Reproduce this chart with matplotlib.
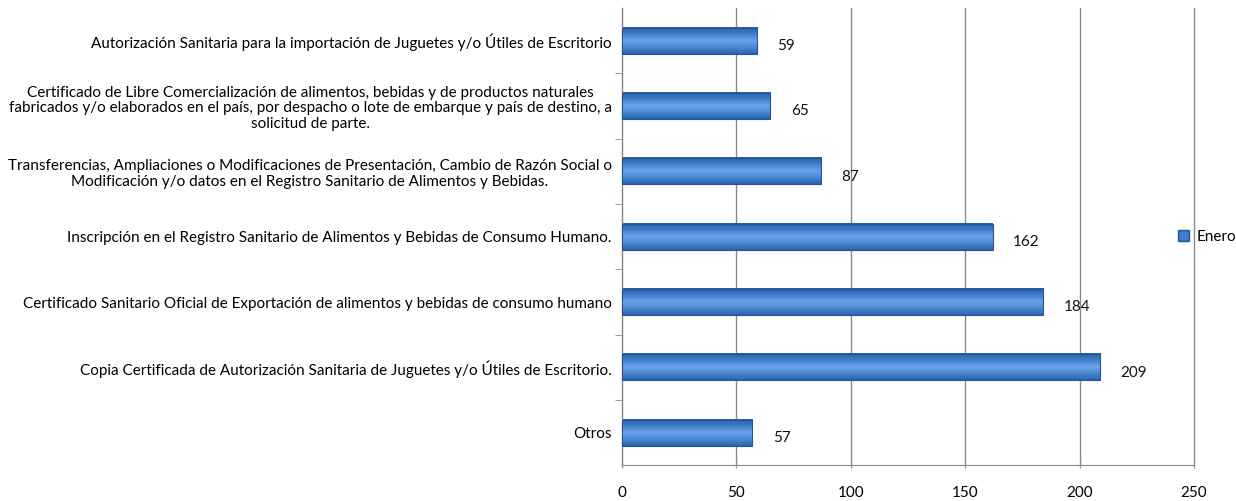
import numpy as np
import matplotlib.pyplot as plt
from matplotlib.colors import LinearSegmentedColormap
from matplotlib.patches import Patch

# datos (de arriba hacia abajo)
categorias = [
    'Autorización Sanitaria para la importación de Juguetes y/o Útiles de Escritorio',
    'Certificado de Libre Comercialización de alimentos, bebidas y de productos naturales\n'
    'fabricados y/o elaborados en el país, por despacho o lote de embarque y país de destino, a\n'
    'solicitud de parte.',
    'Transferencias, Ampliaciones o Modificaciones de Presentación, Cambio de Razón Social o\n'
    'Modificación y/o datos en el Registro Sanitario de Alimentos y Bebidas.',
    'Inscripción en el Registro Sanitario de Alimentos y Bebidas de Consumo Humano.',
    'Certificado Sanitario Oficial de Exportación de alimentos y bebidas de consumo humano',
    'Copia Certificada de Autorización Sanitaria de Juguetes y/o Útiles de Escritorio.',
    'Otros',
]
enero = [59, 65, 87, 162, 184, 209, 57]
xticks = [0, 50, 100, 150, 200, 250]
serie = 'Enero'

plt.rcParams['font.family'] = ['Lato', 'DejaVu Sans']

fig = plt.figure(figsize=(12.36, 5.01), dpi=100)
ax = fig.add_axes([0.503, 0.071, 0.463, 0.913])

n = len(categorias)
ypos = np.arange(n)[::-1]
alto = 0.4

# degradado tipo 3D para las barras
cmap = LinearSegmentedColormap.from_list('azul', ['#2a5fa8', '#3f7dcc', '#6aa5ea', '#4a88d4', '#2c63ad'])
grad = np.linspace(0, 1, 64).reshape(-1, 1)

bars = ax.barh(ypos, enero, height=alto, color='none', edgecolor='#28548f', linewidth=0.8, zorder=3)
for b, v in zip(bars, enero):
    y0 = b.get_y()
    ax.imshow(grad, extent=[0, v, y0, y0 + alto], aspect='auto', cmap=cmap,
              origin='upper', zorder=2)
    ax.text(v + 9, b.get_y() + alto / 2 - 0.08, str(v), va='center', ha='left',
            fontsize=11, color='#111111')

ax.set_xlim(0, 250)
ax.set_ylim(-0.5, n - 0.5)
ax.set_xticks(xticks)
ax.set_xticklabels([str(t) for t in xticks], fontsize=11)
ax.grid(axis='x', color='#8a8a8a', linewidth=1.0, zorder=0)
for gl in ax.get_xgridlines():
    gl.set_clip_on(False)
ax.set_axisbelow(True)

ax.set_yticks(ypos)
ax.set_yticklabels(categorias, fontsize=11)
for lbl in ax.get_yticklabels():
    lbl.set_multialignment('center')
    lbl.set_linespacing(1.15)
ax.tick_params(axis='y', length=0, pad=7)
ax.set_yticks(np.arange(n - 1) + 0.5, minor=True)
ax.tick_params(axis='y', which='minor', length=5, color='#8a8a8a', direction='out')
ax.tick_params(axis='x', length=5, color='#8a8a8a', direction='inout', pad=12)

for s in ['top', 'right']:
    ax.spines[s].set_visible(False)
for s in ['left', 'bottom']:
    ax.spines[s].set_color('#8a8a8a')

ax.legend(handles=[Patch(facecolor='#3f7dcc', edgecolor='#28548f', label=serie)],
          loc='center left', bbox_to_anchor=(0.962, 0.5), frameon=False,
          handlelength=0.7, handleheight=0.7, handletextpad=0.5, fontsize=11,
          borderaxespad=0)

fig.savefig('out.png', dpi=100)
